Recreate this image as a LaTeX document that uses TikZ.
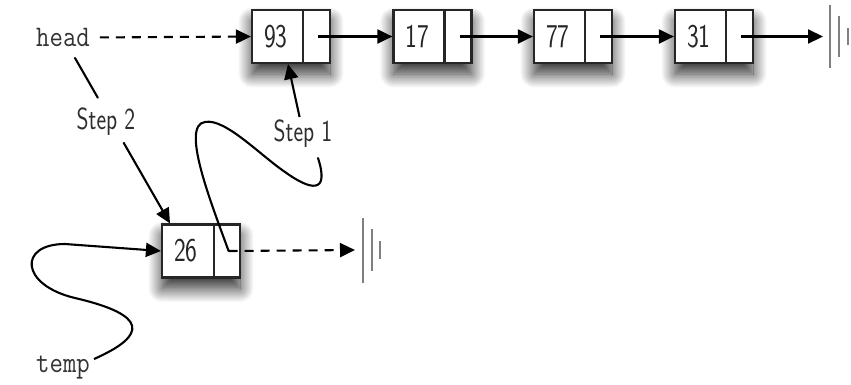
\documentclass[tikz,border=0pt]{standalone}
\usepackage{fontspec}
\usepackage{graphicx}
\usetikzlibrary{arrows.meta,calc,shadows.blur}
\newcommand{\tx}[1]{\scalebox{1}[1.33]{#1}}
\newcommand{\ty}[1]{\scalebox{1}[1.15]{#1}}
\begin{document}
\begin{tikzpicture}[x=1pt,y=-1pt,
  cellbox/.style={draw=black!85, line width=2.2pt, fill=white, minimum width=78pt, minimum height=53pt, inner sep=0pt,
    blur shadow={shadow xshift=0pt, shadow yshift=-11pt, shadow blur radius=14pt, shadow blur steps=24, shadow opacity=85}},
  val/.style={inner sep=0pt, font=\sffamily\fontsize{25}{25}\selectfont, text=black!85},
  lbl/.style={inner sep=1pt, font=\sffamily\fontsize{23}{23}\selectfont, text=black!82},
  mono/.style={inner sep=1pt, font=\ttfamily\fontsize{26}{26}\selectfont, text=black!80},
  arr/.style={line width=2.1pt, -{Triangle[length=15pt,width=14pt]}},
  dsh/.style={arr, dash pattern=on 9pt off 7pt},
  gnd/.style={line width=2.4pt, draw=black!50},
  wire/.style={line width=2.1pt, line cap=round}
]
\useasboundingbox (0,0) rectangle (851,384);

% list nodes
\foreach \v/\cx in {93/291,17/432.5,77/573,31/714}{
  \node[cellbox] (n\v) at (\cx,36.5) {};
  \draw[line width=2.2pt, black!85] ([xshift=52pt]n\v.north west) -- ([xshift=52pt]n\v.south west);
  \node[val] (v\v) at ([xshift=25pt]n\v.west) {\tx{\v}};
  \coordinate (p\v) at ([xshift=-13pt]n\v.east);
}
\node[cellbox] (n26) at (201,251) {};
\draw[line width=2.2pt, black!85] ([xshift=53pt]n26.north west) -- ([xshift=53pt]n26.south west);
\node[val] (v26) at ([xshift=25pt]n26.west) {\tx{26}};
\coordinate (p26) at ([xshift=-12.5pt]n26.east);

% links
\draw[arr] (p93) -- (n17.west);
\draw[arr] (p17) -- (n77.west);
\draw[arr] (p77) -- (n31.west);
\coordinate (g1) at (823,36.5);
\draw[arr] (p31) -- (g1);
\draw[gnd] ([shift={(7,-31.5)}]g1) -- ([shift={(7,31.5)}]g1);
\draw[gnd] ([shift={(16,-20.5)}]g1) -- ([shift={(16,20.5)}]g1);
\draw[gnd] ([shift={(25,-8.5)}]g1) -- ([shift={(25,8.5)}]g1);

% head
\node[mono] (head) at (63,37.5) {\ty{head}};
\draw[dsh, shorten <=9pt] (head.east) -- (n93.west);

% temp node and old link of 26
\coordinate (g2) at (355,250);
\draw[dsh] (p26) -- (g2);
\draw[gnd] ([shift={(8,-32.5)}]g2) -- ([shift={(8,32.5)}]g2);
\draw[gnd] ([shift={(17,-21)}]g2) -- ([shift={(17,21)}]g2);
\draw[gnd] ([shift={(25,-9)}]g2) -- ([shift={(25,9)}]g2);

\node[mono, anchor=base] (temp) at (63,372) {\ty{temp}};
\draw[arr] ([shift={(3,-8)}]temp.east) .. controls (148,335) and (148,315) .. (75,298)
  .. controls (20,285) and (18,244) .. (65,244) -- (n26.west);

% Step 1
\node[lbl] (s1) at (303,134) {\tx{Step 1}};
\draw[arr, shorten <=2pt] ([xshift=-3pt]s1.north) -- ([xshift=-3pt]n93.south);
\coordinate (s1end) at (318,158);
\draw[wire] (p26) .. controls (212,205) and (180,125) .. (205,122)
  .. controls (225,118) and (260,155) .. (285,172)
  .. controls (310,190) and (330,195) .. (s1end);

% Step 2
\node[lbl] (s2) at (106,122) {\tx{Step 2}};
\coordinate (a) at ([xshift=12pt,yshift=-20.5pt]head.center);
\coordinate (b) at ([xshift=-31pt]n26.north);
\draw[wire] (a) -- ($(a)!0.24!(b)$);
\draw[arr] ($(a)!0.51!(b)$) -- (b);
\end{tikzpicture}
\end{document}
